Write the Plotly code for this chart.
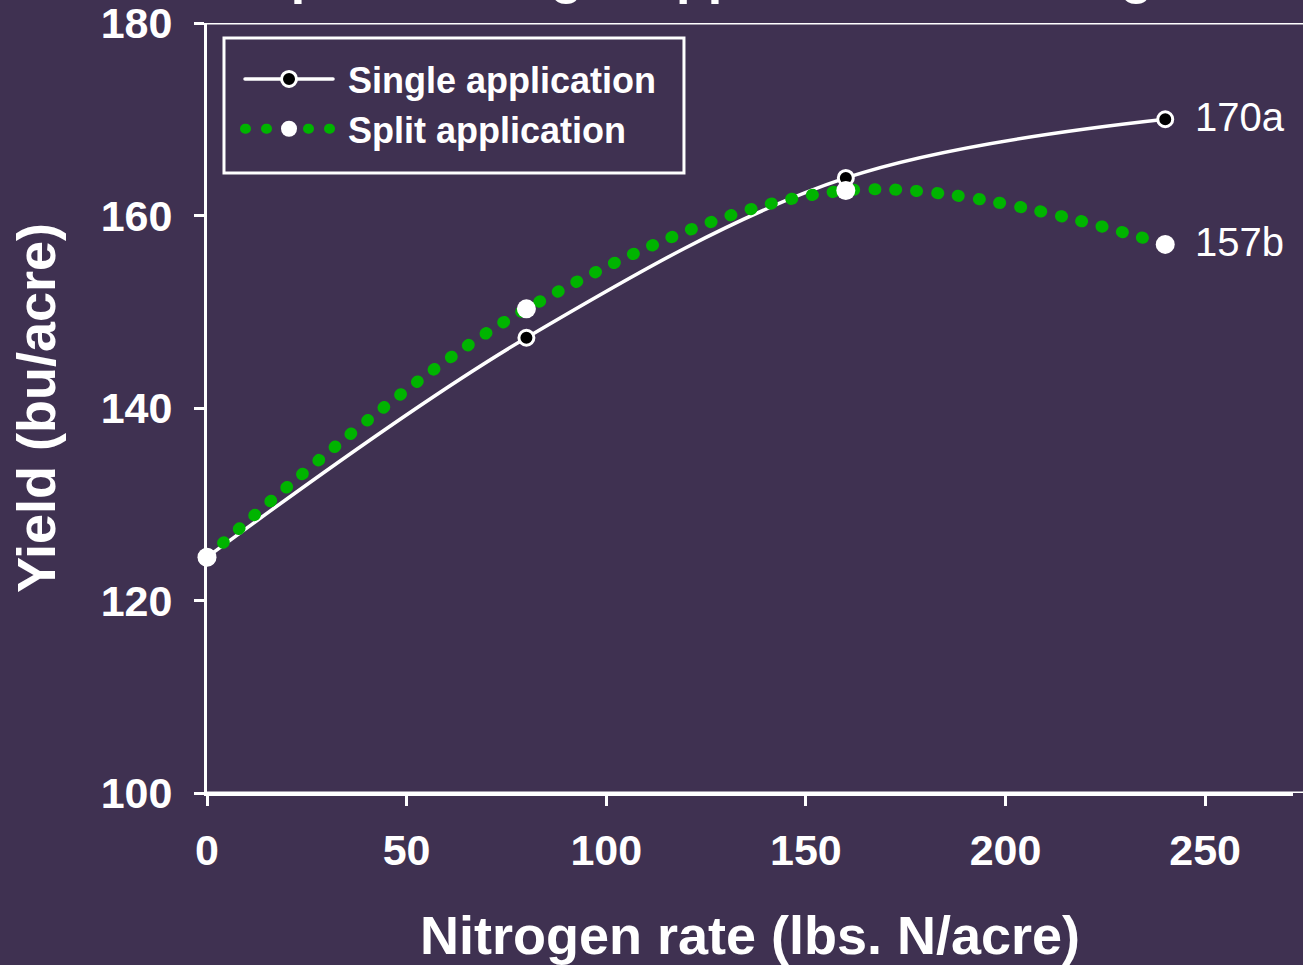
import plotly.graph_objects as go

# Data
n_rate = [0, 80, 160, 240]
single_yield = [124.5, 147.3, 163.9, 170.0]
split_yield = [124.5, 150.3, 162.6, 157.0]
end_labels = ["170a", "157b"]
x_ticks = [0, 50, 100, 150, 200, 250]
y_ticks = [100, 120, 140, 160, 180]

BG = "#3F3151"
GREEN = "#00B400"
FONT = "Liberation Sans"

fig = go.Figure()

fig.add_trace(go.Scatter(
    x=n_rate, y=single_yield, name="&nbsp;Single application",
    mode="lines+markers", cliponaxis=False,
    line=dict(color="white", width=3.5, shape="spline", smoothing=1),
    marker=dict(size=15, color="black", line=dict(color="white", width=3)),
))
fig.add_trace(go.Scatter(
    x=n_rate, y=split_yield, name="&nbsp;Split application",
    mode="lines+markers", cliponaxis=False,
    line=dict(color=GREEN, width=12, shape="spline", smoothing=1, dash="1px,20px"),
    marker=dict(size=19, color="white", line=dict(width=0)),
))

for yv, lab in zip([single_yield[-1], split_yield[-1]], end_labels):
    fig.add_annotation(x=n_rate[-1], y=yv, text=lab, showarrow=False,
                       xanchor="left", yanchor="middle", xshift=28, yshift=2,
                       font=dict(family=FONT, size=40, color="white"))

# Title (mostly outside the visible area, as in the reference)
fig.add_annotation(xref="paper", yref="paper", x=0.0433, y=1.0221,
                   xanchor="left", yanchor="bottom", showarrow=False,
                   text="Split vs. Single Application of Nitrogen",
                   font=dict(family=FONT, size=52, color="white", weight="bold"))

# frame lines extending to the right edge
fig.add_shape(type="line", xref="paper", yref="y", x0=0, x1=1.02,
              y0=y_ticks[-1], y1=y_ticks[-1], line=dict(color="white", width=3))
fig.add_shape(type="line", xref="paper", yref="y", x0=0, x1=1.02,
              y0=y_ticks[0], y1=y_ticks[0], line=dict(color="white", width=3))
# legend frame
fig.add_shape(type="rect", xref="paper", yref="paper",
              x0=0.01565, x1=0.4392, y0=0.8052, y1=0.9805,
              line=dict(color="white", width=3), fillcolor="rgba(0,0,0,0)")

tickfont = dict(family=FONT, size=43, color="white", weight="bold")

fig.update_layout(
    width=1303, height=965,
    margin=dict(l=207, r=10, t=23, b=172, autoexpand=False),
    paper_bgcolor=BG, plot_bgcolor=BG,
    showlegend=True,
    legend=dict(x=0.0304, y=0.9662, xanchor="left", yanchor="top",
                bgcolor="rgba(0,0,0,0)", borderwidth=0,
                font=dict(family=FONT, size=36, color="white", weight="bold"),
                itemwidth=88, tracegroupgap=0),
    xaxis=dict(range=[0, 272], tickvals=x_ticks, ticks="outside", ticklen=10,
               tickwidth=3, tickcolor="white", showline=True, linecolor="white",
               linewidth=3, showgrid=False, zeroline=False, tickfont=tickfont,
               ticklabelstandoff=7, ticklabeloverflow="allow",
               title=dict(text="Nitrogen rate (lbs. N/acre)", standoff=52,
                          font=dict(family=FONT, size=54, color="white", weight="bold"))),
    yaxis=dict(range=[100, 180], tickvals=y_ticks, ticks="outside", ticklen=10,
               tickwidth=3, tickcolor="white", showline=True, linecolor="white",
               linewidth=3, showgrid=False, zeroline=False, tickfont=tickfont,
               ticklabelstandoff=13, ticklabeloverflow="allow",
               title=dict(text="Yield (bu/acre)", standoff=28,
                          font=dict(family=FONT, size=54, color="white", weight="bold"))),
    yaxis2=dict(range=[100, 180], tickvals=y_ticks, overlaying="y", side="right",
                anchor="x", ticks="outside", ticklen=10, tickwidth=3,
                tickcolor="white", showline=False, showgrid=False,
                zeroline=False, showticklabels=False),
)

post = ("var s=document.createElement('style');"
        "s.innerHTML='.js-line{stroke-linecap:round;}';"
        "document.head.appendChild(s);")
fig.write_html("out.html", post_script=post)
